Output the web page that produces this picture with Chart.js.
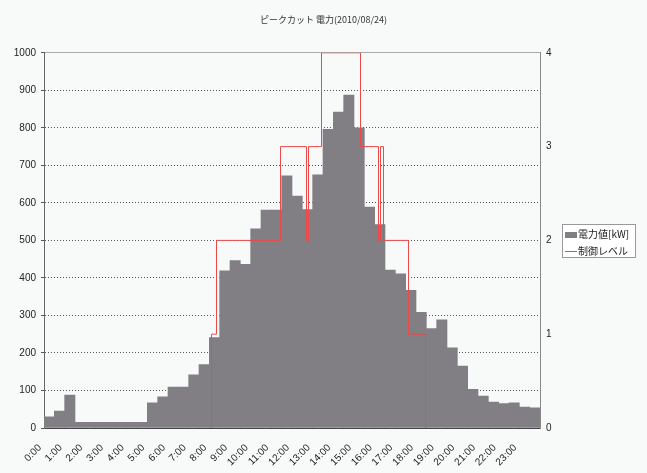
<!DOCTYPE html>
<html>
<head>
<meta charset="utf-8">
<script src="https://cdn.jsdelivr.net/npm/chart.js@4"></script>
<style>
  html, body { margin: 0; padding: 0; background: #f8fafa; }
  #wrap { width: 647px; height: 473px; position: relative; }
</style>
</head>
<body>
<div id="wrap"><canvas id="chart"></canvas></div>
<script>
// 30分ごとの時刻
const slotLabels = [
    '0:00', '0:30', '1:00', '1:30', '2:00', '2:30', '3:00', '3:30',
    '4:00', '4:30', '5:00', '5:30', '6:00', '6:30', '7:00', '7:30',
    '8:00', '8:30', '9:00', '9:30', '10:00', '10:30', '11:00', '11:30',
    '12:00', '12:30', '13:00', '13:30', '14:00', '14:30', '15:00', '15:30',
    '16:00', '16:30', '17:00', '17:30', '18:00', '18:30', '19:00', '19:30',
    '20:00', '20:30', '21:00', '21:30', '22:00', '22:30', '23:00', '23:30'
];

// 電力値[kW]
const powerValues = [
    30, 45, 88, 15, 15, 15, 15, 15,
    15, 15, 67, 83, 109, 109, 142, 169,
    241, 419, 446, 436, 531, 581, 581, 672,
    618, 582, 675, 796, 842, 887, 800, 589,
    542, 421, 411, 367, 308, 265, 288, 214,
    165, 103, 85, 69, 65, 67, 56, 54
];

// 制御レベル (時刻[h], レベル)
const ctrlHours  = [8.105, 8.105, 8.347, 11.443, 12.702, 12.798, 13.427, 15.315, 16.185, 16.282, 16.427, 17.637, 18.46];
const ctrlLevels = [0,     1,     2,     3,      2,      3,      4,      3,      2,      3,      2,      1,      0];

const tickFont = { family: "'Liberation Sans', Arial, sans-serif", size: 10 };
const jpFont = "'Noto Sans CJK JP', sans-serif";

// 凡例（枠付き）
const legendBox = {
    id: 'legendBox',
    afterDraw(chart) {
        const { ctx, chartArea } = chart;
        const w = 73, h = 33;
        const x = Math.round(chartArea.right + 22);
        const y = Math.round((chartArea.top + chartArea.bottom) / 2 - h / 2);
        ctx.save();
        ctx.fillStyle = '#ffffff';
        ctx.fillRect(x, y, w, h);
        ctx.strokeStyle = '#999999';
        ctx.lineWidth = 1;
        ctx.strokeRect(x + 0.5, y + 0.5, w, h);
        ctx.font = '10px ' + jpFont;
        ctx.textBaseline = 'middle';
        const items = [chart.data.datasets[0], chart.data.datasets[1]];
        items.forEach((ds, i) => {
            const cy = y + 10.5 + i * 16.5;
            if (ds.type === 'line') {
                ctx.strokeStyle = ds.borderColor;
                ctx.beginPath();
                ctx.moveTo(x + 3, Math.round(cy) + 0.5);
                ctx.lineTo(x + 15, Math.round(cy) + 0.5);
                ctx.stroke();
            } else {
                ctx.fillStyle = ds.backgroundColor;
                ctx.fillRect(x + 3, Math.round(cy) - 3, 12, 6);
            }
            ctx.fillStyle = '#222';
            ctx.fillText(ds.label, x + 16, cy);
        });
        ctx.restore();
    }
};

const ctx = document.getElementById('chart').getContext('2d');
new Chart(ctx, {
    type: 'bar',
    data: {
        labels: slotLabels,
        datasets: [{
            type: 'bar',
            label: '電力値[kW]',
            data: powerValues,
            backgroundColor: '#817f84',
            borderWidth: 0,
            grouped: false,
            barPercentage: 1.0,
            categoryPercentage: 1.0,
            xAxisID: 'xc',
            yAxisID: 'y',
            order: 2
        }, {
            type: 'line',
            label: '制御レベル',
            data: ctrlHours.map((h, i) => ({ x: h, y: ctrlLevels[i] })),
            borderColor: '#ea4a4a',
            borderWidth: 1,
            pointRadius: 0,
            stepped: true,
            fill: false,
            xAxisID: 'x',
            yAxisID: 'y2',
            order: 1
        }]
    },
    options: {
        responsive: true,
        maintainAspectRatio: false,
        animation: false,
        layout: { padding: 0 },
        plugins: {
            legend: { display: false },
            tooltip: { enabled: false },
            title: {
                display: true,
                text: 'ピークカット 電力(2010/08/24)',
                color: '#333',
                font: { family: jpFont, size: 9, weight: 'normal' },
                padding: { top: 14, bottom: 28 }
            }
        },
        scales: {
            xc: {
                type: 'category',
                display: false,
                offset: true
            },
            x: {
                type: 'linear',
                position: 'bottom',
                offset: false,
                min: 0,
                max: 24,
                grid: { display: false, drawTicks: false, offset: false },
                border: { color: '#444', width: 1 },
                ticks: {
                    stepSize: 1,
                    autoSkip: false,
                    maxRotation: 45,
                    minRotation: 45,
                    padding: 14,
                    labelOffset: -4,
                    color: '#222',
                    font: tickFont,
                    callback: v => (v < 24 ? v + ':00' : '')
                },
                afterFit: scale => { scale.height = 45; }
            },
            y: {
                position: 'left',
                min: 0,
                max: 1000,
                grid: {
                    color: c => (c.tick.value === 1000 ? '#aaaaaa' : c.tick.value === 0 ? 'rgba(0,0,0,0)' : '#555555'),
                    tickColor: '#555',
                    tickLength: 3
                },
                border: {
                    color: '#666',
                    dash: c => (c.tick && c.tick.value === 1000 ? [] : [1, 2])
                },
                ticks: {
                    stepSize: 100,
                    padding: 5,
                    color: '#222',
                    font: tickFont,
                    callback: v => String(v)
                },
                afterFit: scale => { scale.width = 44; }
            },
            y2: {
                position: 'right',
                min: 0,
                max: 4,
                grid: { drawOnChartArea: false, drawTicks: false },
                border: { color: '#888' },
                ticks: { stepSize: 1, padding: 6, color: '#222', font: tickFont },
                afterFit: scale => { scale.width = 107; }
            }
        }
    },
    plugins: [legendBox]
});
</script>
</body>
</html>
